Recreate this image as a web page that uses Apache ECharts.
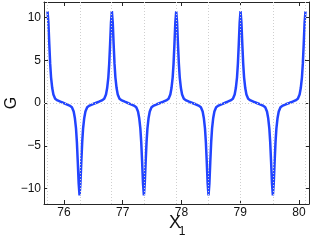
<!DOCTYPE html>
<html>
<head>
<meta charset="utf-8">
<script src="https://cdn.jsdelivr.net/npm/echarts@6/dist/echarts.min.js"></script>
<style>
html,body{margin:0;padding:0;background:#fff;}
#chart{width:312px;height:240px;}
</style>
</head>
<body>
<div id="chart"></div>
<script>
// X1 positions of the curve samples
var x1Values = [
75.72,75.735,75.75,75.765,75.78,75.80,75.82,75.85,75.89,75.94,75.993,
76.045,76.095,76.135,76.165,76.185,76.205,76.22,76.235,76.25,76.265,
76.28,76.295,76.31,76.325,76.345,76.365,76.395,76.435,76.485,76.54,
76.595,76.645,76.685,76.715,76.735,76.755,76.77,76.785,76.80,76.815,
76.83,76.845,76.86,76.875,76.895,76.915,76.945,76.985,77.035,77.088,
77.14,77.19,77.23,77.26,77.28,77.30,77.315,77.33,77.345,77.36,
77.375,77.39,77.405,77.42,77.44,77.46,77.49,77.53,77.58,77.635,
77.69,77.74,77.78,77.81,77.83,77.85,77.865,77.88,77.895,77.91,
77.925,77.94,77.955,77.97,77.99,78.01,78.04,78.08,78.13,78.185,
78.24,78.29,78.33,78.36,78.38,78.40,78.415,78.43,78.445,78.46,
78.475,78.49,78.505,78.52,78.54,78.56,78.59,78.63,78.68,78.733,
78.785,78.835,78.875,78.905,78.925,78.945,78.96,78.975,78.99,79.005,
79.02,79.035,79.05,79.065,79.085,79.105,79.135,79.175,79.225,79.28,
79.335,79.385,79.425,79.455,79.475,79.495,79.51,79.525,79.54,79.555,
79.57,79.585,79.60,79.615,79.635,79.655,79.685,79.725,79.775,79.833,
79.89,79.94,79.98,80.01,80.03,80.05,80.065,80.08,80.095,80.11
];
// G values read at those positions
var gValues = [
10.7,9.4,6.9,4.6,3.0,1.75,1.0,0.5,0.3,0.15,0,
-0.15,-0.3,-0.5,-1.0,-1.75,-3.0,-4.6,-6.9,-9.4,-10.8,
-9.4,-6.9,-4.6,-3.0,-1.75,-1.0,-0.5,-0.3,-0.15,0,
0.15,0.3,0.5,1.0,1.75,3.0,4.6,6.9,9.4,10.75,
9.4,6.9,4.6,3.0,1.75,1.0,0.5,0.3,0.15,0,
-0.15,-0.3,-0.5,-1.0,-1.75,-3.0,-4.6,-6.9,-9.4,-10.8,
-9.4,-6.9,-4.6,-3.0,-1.75,-1.0,-0.5,-0.3,-0.15,0,
0.15,0.3,0.5,1.0,1.75,3.0,4.6,6.9,9.4,10.7,
9.4,6.9,4.6,3.0,1.75,1.0,0.5,0.3,0.15,0,
-0.15,-0.3,-0.5,-1.0,-1.75,-3.0,-4.6,-6.9,-9.4,-10.8,
-9.4,-6.9,-4.6,-3.0,-1.75,-1.0,-0.5,-0.3,-0.15,0,
0.15,0.3,0.5,1.0,1.75,3.0,4.6,6.9,9.4,10.75,
9.4,6.9,4.6,3.0,1.75,1.0,0.5,0.3,0.15,0,
-0.15,-0.3,-0.5,-1.0,-1.75,-3.0,-4.6,-6.9,-9.4,-10.8,
-9.4,-6.9,-4.6,-3.0,-1.75,-1.0,-0.5,-0.3,-0.15,0,
0.15,0.3,0.5,1.0,1.75,3.0,4.6,6.9,9.4,10.7
];
// dotted reference lines (peak / trough positions) and zero line
var refLinesX = [75.72,76.265,76.815,77.36,77.91,78.46,79.005,79.555,80.11];
var refLinesY = [0];
// tick labels
var xTicks = [76,77,78,79,80];
var yTicks = [-10,-5,0,5,10];
var xRange = [75.66, 80.17];
var yRange = [-11.8, 11.8];

var font = "'Liberation Sans', Arial, Helvetica, sans-serif";
var axisCol = '#262626';

function makeX(pos, showLabel) {
  return {
    type: 'value', position: pos, min: xRange[0], max: xRange[1],
    axisLine: {show: true, onZero: false, lineStyle: {color: axisCol, width: 1}},
    axisTick: {show: true, inside: true, length: 4, customValues: xTicks, lineStyle: {color: axisCol}},
    axisLabel: {show: showLabel, customValues: xTicks, margin: 3, color: '#111', fontSize: 12, fontFamily: font},
    splitLine: {show: false}
  };
}
function makeY(pos, showLabel) {
  return {
    type: 'value', position: pos, min: yRange[0], max: yRange[1],
    axisLine: {show: true, onZero: false, lineStyle: {color: axisCol, width: 1}},
    axisTick: {show: true, inside: true, length: 4, customValues: yTicks, lineStyle: {color: axisCol}},
    axisLabel: {show: showLabel, customValues: yTicks, margin: 3, color: '#111', fontSize: 12, fontFamily: font,
      formatter: function (v) { return String(v).replace('-', '\u2212'); }},
    splitLine: {show: false}
  };
}

var curve = x1Values.map(function (x, i) { return [x, gValues[i]]; });
var marks = refLinesX.map(function (v) { return {xAxis: v}; })
  .concat(refLinesY.map(function (v) { return {yAxis: v}; }));

var chart = echarts.init(document.getElementById('chart'), null, {renderer: 'canvas'});
chart.setOption({
  animation: false,
  backgroundColor: '#fff',
  grid: {left: 44, right: 3, top: 2, bottom: 36, containLabel: false},
  xAxis: [makeX('bottom', true), makeX('top', false)],
  yAxis: [makeY('left', true), makeY('right', false)],
  series: [
    {
      type: 'line', name: 'grid', data: [], z: 1, silent: true,
      markLine: {
        silent: true, symbol: ['none', 'none'], label: {show: false},
        lineStyle: {color: '#cfcfcf', width: 1, type: [1, 2]},
        emphasis: {disabled: true},
        data: marks
      }
    },
    {
      type: 'line', name: 'G', data: curve, z: 3,
      showSymbol: false, smooth: false,
      lineStyle: {color: '#2244ff', width: 2.5},
      itemStyle: {color: '#2244ff'}
    }
  ],
  graphic: [
    {type: 'text', x: 12, y: 103, rotation: Math.PI / 2,
      style: {text: 'G', font: '16px ' + font, fill: '#111', align: 'center', verticalAlign: 'middle'}},
    {type: 'text', x: 175, y: 223,
      style: {text: 'X', font: '18px ' + font, fill: '#111', align: 'center', verticalAlign: 'middle'}},
    {type: 'text', x: 182, y: 231.5,
      style: {text: '1', font: '12px ' + font, fill: '#111', align: 'center', verticalAlign: 'middle'}}
  ]
});
</script>
</body>
</html>
